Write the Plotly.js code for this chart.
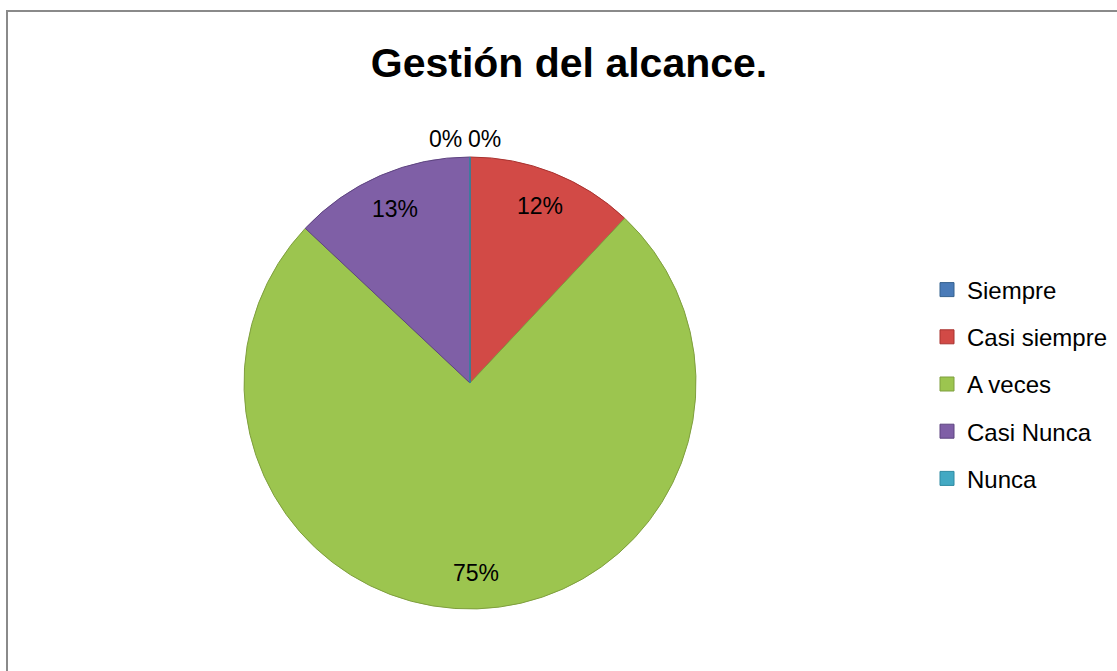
<!DOCTYPE html>
<html>
<head>
<meta charset="utf-8">
<script src="https://cdn.plot.ly/plotly-3.0.1.min.js"></script>
<style>
  html, body { margin: 0; padding: 0; background: #ffffff; overflow: hidden; }
  #frame { position: absolute; left: 6px; top: 10px; width: 1200px; height: 800px;
           border-left: 2px solid #8a8a8a; border-top: 2px solid #8a8a8a; }
  #chart { position: absolute; left: 0; top: 0; width: 1117px; height: 671px; }
</style>
</head>
<body>
<div id="frame"></div>
<div id="chart"></div>
<script>
const categories = ["Siempre", "Casi siempre", "A veces", "Casi Nunca", "Nunca"];
const values = [0, 12, 75, 13, 0];
const valueLabels = ["0%", "12%", "75%", "13%", "0%"];
const sliceColors = ["#4a7bb8", "#d24a46", "#9cc54f", "#7f5fa6", "#43a9c3"];
const edgeColors = ["#35628f", "#a8322f", "#7f9f3e", "#5e4480", "#2f8aa2"];

const FONT = '"Liberation Sans", Arial, sans-serif';
const W = 1117, H = 671;
const domX = [244 / W, 696 / W];
const domY = [62 / H, 514 / H];

const pie = {
  type: "pie",
  labels: categories,
  values: values,
  text: valueLabels,
  textinfo: "none",
  hovertemplate: "%{label}: %{text}<extra></extra>",
  sort: false,
  direction: "clockwise",
  rotation: 0,
  marker: { colors: sliceColors, line: { color: edgeColors, width: 1 } },
  domain: { x: domX, y: domY },
  showlegend: false
};

// legend entries (one group per category so the spacing matches the original)
const legendTraces = categories.map((c, i) => ({
  type: "scatter",
  mode: "markers",
  x: [null], y: [null],
  name: c,
  legendgroup: "g" + i,
  showlegend: true,
  hoverinfo: "skip",
  marker: { symbol: "square", size: 14, color: sliceColors[i], line: { color: edgeColors[i], width: 1 } }
}));

// data labels placed along each slice's mid-angle
const total = values.reduce((a, b) => a + b, 0);
const cxPx = (domX[0] + domX[1]) / 2 * W;
const cyPx = H - (domY[0] + domY[1]) / 2 * H;
const R = Math.min((domX[1] - domX[0]) * W, (domY[1] - domY[0]) * H) / 2;
let cum = 0;
const annotations = values.map((v, i) => {
  const frac = (cum + v / 2) / total;
  cum += v;
  const th = frac * 2 * Math.PI;
  const zero = v === 0;
  const r = zero ? R * 1.08 : R * 0.84;
  const px = cxPx + r * Math.sin(th);
  const py = cyPx - r * Math.cos(th);
  return {
    text: valueLabels[i], xref: "paper", yref: "paper",
    x: px / W, y: 1 - py / H,
    xanchor: zero ? (frac < 0.5 ? "left" : "right") : "center",
    xshift: zero ? (frac < 0.5 ? -4 : -6) : 0,
    yanchor: "middle",
    showarrow: false,
    font: { family: FONT, size: 23, color: "#000000" }
  };
});

const layout = {
  width: W,
  height: H,
  margin: { l: 0, r: 0, t: 0, b: 0, autoexpand: false },
  paper_bgcolor: "rgba(0,0,0,0)",
  plot_bgcolor: "rgba(0,0,0,0)",
  font: { family: FONT, color: "#000000" },
  xaxis: { visible: false },
  yaxis: { visible: false },
  title: {
    text: "<b>Gestión del alcance.</b>",
    font: { family: FONT, size: 41, color: "#000000" },
    x: 569 / W, xanchor: "center", xref: "paper",
    y: 1 - 63 / H, yanchor: "middle", yref: "container"
  },
  legend: {
    x: 927 / W, xanchor: "left",
    y: 1 - 384 / H, yanchor: "middle",
    font: { family: FONT, size: 24, color: "#000000" },
    bgcolor: "rgba(0,0,0,0)",
    traceorder: "grouped",
    tracegroupgap: 13
  },
  annotations: annotations
};

Plotly.newPlot("chart", [pie].concat(legendTraces), layout, { displayModeBar: false });
</script>
</body>
</html>
